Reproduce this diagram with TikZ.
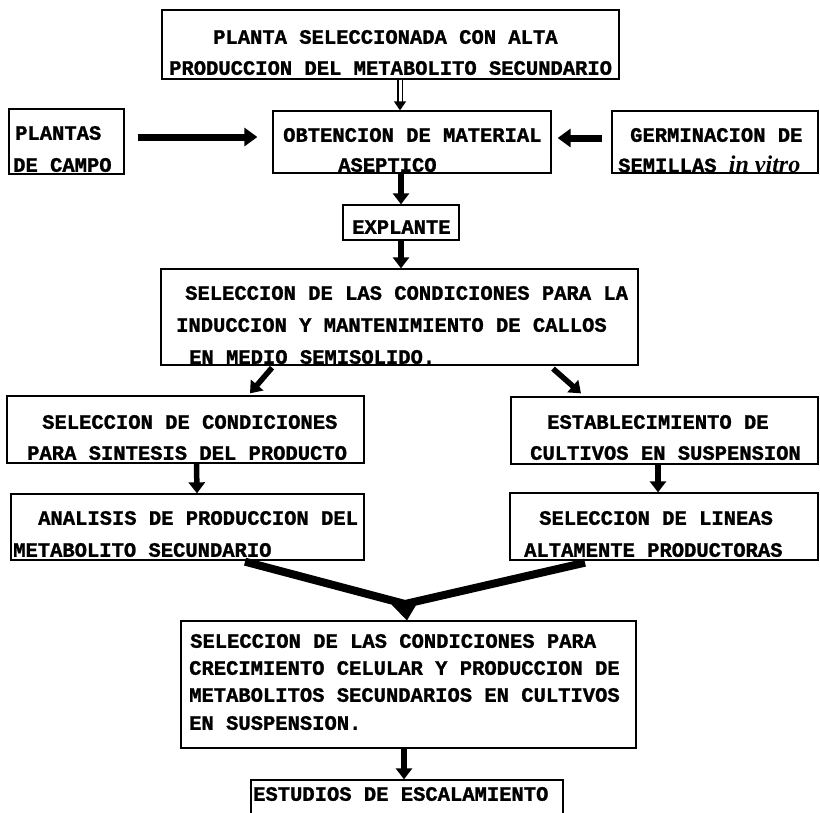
\documentclass[tikz,border=0pt]{standalone}
\usepackage{fontspec}
\newfontfamily\boxfont{Liberation Mono}[BoldFeatures={FakeBold=1.2}]
\newfontfamily\vitrofont{Liberation Serif}
\usetikzlibrary{arrows.meta}
\begin{document}
\begin{tikzpicture}[x=1pt,y=-1pt,
  box/.style={draw, line width=1.3pt, inner sep=0pt},
  txt/.style={inner sep=0pt, anchor=west, font=\boxfont\bfseries\fontsize{20.5}{24}\selectfont},
  arr/.style={line width=5.5pt, -{Triangle[width=16pt,length=11pt]}},
  harr/.style={line width=7pt, -{Triangle[width=18pt,length=13pt]}},
  dblarr/.style={line width=1.5pt, double, double distance=3pt, -{Triangle[width=12pt,length=9pt]}},
  vline/.style={line width=8pt, line join=miter},
  vhead/.style={line width=1pt, -{Triangle[width=26pt,length=17pt]}}]
\clip (0,0) rectangle (820,812);
\useasboundingbox (0,0) rectangle (820,812);
\fill[white] (0,0) rectangle (820,812);

% boxes
\node[box, minimum width=457pt, minimum height=69pt] (b1) at (390.5,44.5) {};
\node[box, minimum width=115pt, minimum height=65pt] (plantas) at (66.5,141.5) {};
\node[box, minimum width=278pt, minimum height=62pt] (b2) at (412,142) {};
\node[box, minimum width=206pt, minimum height=62pt] (germ) at (715,142) {};
\node[box, minimum width=116pt, minimum height=35pt] (expl) at (401,222.5) {};
\node[box, minimum width=477pt, minimum height=96pt] (b3) at (399.5,317) {};
\node[box, minimum width=357pt, minimum height=67pt] (b4l) at (185.5,429.5) {};
\node[box, minimum width=307pt, minimum height=67pt] (b4r) at (664.5,430.5) {};
\node[box, minimum width=353pt, minimum height=66pt] (b5l) at (187.5,527) {};
\node[box, minimum width=308pt, minimum height=67pt] (b5r) at (664,526.5) {};
\node[box, minimum width=455pt, minimum height=127pt] (b6) at (408.5,684.5) {};
\node[box, minimum width=312pt, minimum height=50pt] (b7) at (407,805) {};

% texts
\node[txt] (t1a) at (213,37) {PLANTA SELECCIONADA CON ALTA};
\node[txt] (t1b) at (169,68) {PRODUCCION DEL METABOLITO SECUNDARIO};
\node[txt] (tpa) at (15,133) {PLANTAS};
\node[txt] (tpb) at (13,165) {DE CAMPO};
\node[txt] (t2a) at (283,135) {OBTENCION DE MATERIAL};
\node[txt] (t2b) at (338,165) {ASEPTICO};
\node[txt] (tga) at (630,135) {GERMINACION DE};
\node[txt] (tgb) at (618,164) {SEMILLAS {\vitrofont\itshape\fontsize{24}{24}\selectfont in vitro}};
\node[txt] (te) at (352,227) {EXPLANTE};
\node[txt] (t3a) at (185,293) {SELECCION DE LAS CONDICIONES PARA LA};
\node[txt] (t3b) at (176,325) {INDUCCION Y MANTENIMIENTO DE CALLOS};
\node[txt] (t3c) at (189,357) {EN MEDIO SEMISOLIDO.};
\node[txt] (t4la) at (42,422) {SELECCION DE CONDICIONES};
\node[txt] (t4lb) at (27,453) {PARA SINTESIS DEL PRODUCTO};
\node[txt] (t4ra) at (547,422) {ESTABLECIMIENTO DE};
\node[txt] (t4rb) at (530,453) {CULTIVOS EN SUSPENSION};
\node[txt] (t5la) at (38,518) {ANALISIS DE PRODUCCION DEL};
\node[txt] (t5lb) at (13,550) {METABOLITO SECUNDARIO};
\node[txt] (t5ra) at (539,518) {SELECCION DE LINEAS};
\node[txt] (t5rb) at (524,550) {ALTAMENTE PRODUCTORAS};
\node[txt] (t6a) at (190,641) {SELECCION DE LAS CONDICIONES PARA};
\node[txt] (t6b) at (189,668) {CRECIMIENTO CELULAR Y PRODUCCION DE};
\node[txt] (t6c) at (189,695) {METABOLITOS SECUNDARIOS EN CULTIVOS};
\node[txt] (t6d) at (189,723) {EN SUSPENSION.};
\node[txt] (t7) at (253,794) {ESTUDIOS DE ESCALAMIENTO};

% connectors
\draw[dblarr] ([xshift=9.5pt]b1.south) -- ([xshift=-12pt]b2.north);
\draw[harr] ([xshift=13pt,yshift=4.5pt]plantas.east) -- ([xshift=-15pt,yshift=5pt]b2.west);
\draw[harr] ([xshift=-9pt,yshift=4pt]germ.west) -- ([xshift=6pt,yshift=4pt]b2.east);
\draw[arr] (expl.north |- b2.south) -- (expl.north);
\draw[arr] (expl.south) -- (expl.south |- b3.north);
\draw[arr] ([xshift=-127.5pt,yshift=-2pt]b3.south) -- ([xshift=64.5pt,yshift=2pt]b4l.north);
\draw[arr] ([xshift=153.5pt,yshift=-3pt]b3.south) -- ([xshift=-83.5pt,yshift=3pt]b4r.north);
\draw[arr] ([xshift=11pt]b4l.south) -- ([xshift=9.5pt]b5l.north);
\draw[arr] ([xshift=-6.5pt]b4r.south) -- ([xshift=-6pt]b5r.north);
\coordinate (vj) at (405,604);
\draw[vline] ([xshift=57.5pt,yshift=-1pt]b5l.south) -- (vj) -- ([xshift=-79pt,yshift=-2pt]b5r.south);
\draw[vhead] (vj) -- ([xshift=-1.5pt]b6.north);
\draw[arr] ([xshift=-4.5pt]b6.south) -- ([xshift=-3pt]b7.north);
\end{tikzpicture}
\end{document}
